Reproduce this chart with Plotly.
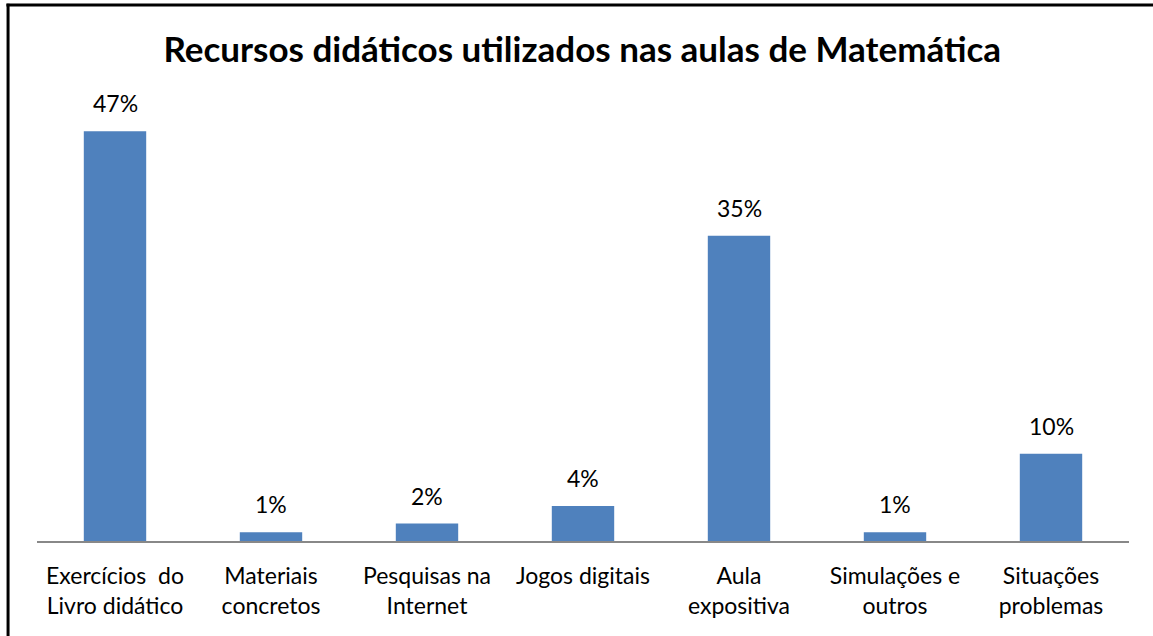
import plotly.graph_objects as go

categories = ["Exercícios  do<br>Livro didático", "Materiais<br>concretos", "Pesquisas na<br>Internet",
              "Jogos digitais", "Aula<br>expositiva", "Simulações e<br>outros", "Situações<br>problemas"]
values = [47, 1, 2, 4, 35, 1, 10]
value_labels = ["47%", "1%", "2%", "4%", "35%", "1%", "10%"]

FONT = "Lato, 'Open Sans', sans-serif"

fig = go.Figure()
fig.add_trace(go.Bar(
    x=categories, y=values, marker=dict(color="#4F81BD", line=dict(width=0)),
    width=0.4, hoverinfo="skip",
))

for c, v, t in zip(categories, values, value_labels):
    fig.add_annotation(x=c, y=v, text=t, showarrow=False, yanchor="bottom", yshift=12,
                       font=dict(family=FONT, size=23, color="#000000"))

fig.update_layout(
    width=1153, height=636,
    paper_bgcolor="white", plot_bgcolor="white",
    margin=dict(l=37, r=24, t=105, b=95, autoexpand=False),
    showlegend=False,
    bargap=0.6,
    title=dict(text="<b>Recursos didáticos utilizados nas aulas de Matemática</b>",
               x=0.505, xanchor="center", y=0.921, yanchor="middle",
               font=dict(family=FONT, size=35, color="#000000")),
    xaxis=dict(showline=True, linecolor="#888888", linewidth=2, ticks="",
               tickfont=dict(family=FONT, size=23, color="#000000"),
               ticklabelstandoff=13,
               showgrid=False, zeroline=False, automargin=False),
    yaxis=dict(range=[0, 50], visible=False, showgrid=False, zeroline=False),
    shapes=[
        dict(type="line", xref="paper", yref="paper", x0=-0.028, x1=1.03, y0=1.2294, y1=1.2294,
             line=dict(color="#000000", width=3)),
        dict(type="line", xref="paper", yref="paper", x0=-0.0265, x1=-0.0265, y0=1.232, y1=-0.3,
             line=dict(color="#000000", width=3)),
    ],
)

fig.write_html("out.html", config={"displayModeBar": False},
               post_script="document.body.style.margin='0px';document.body.style.overflow='hidden';")
